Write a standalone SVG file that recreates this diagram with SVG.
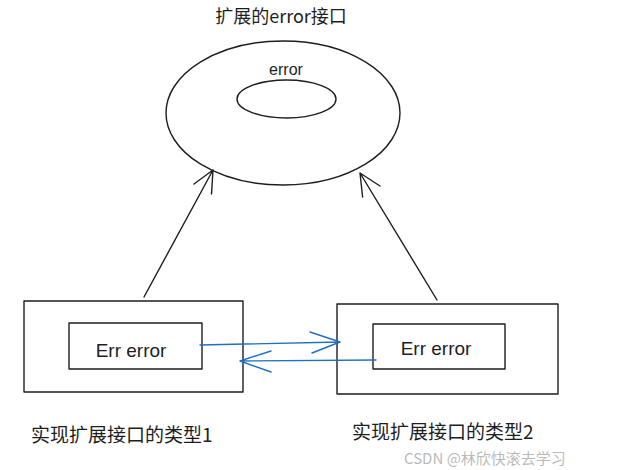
<svg xmlns="http://www.w3.org/2000/svg" width="619" height="470" viewBox="0 0 619 470">
<style>
.s{fill:none;stroke:#1e1e1e;stroke-width:1.4;stroke-linecap:round;stroke-linejoin:round}
.b{fill:none;stroke:#1f6fc6;stroke-width:1.4;stroke-linecap:round;stroke-linejoin:round}
.cjk{font-family:"Noto Sans CJK SC","Liberation Sans",sans-serif;fill:#1e1e1e}
.hw{font-family:"Liberation Sans","DejaVu Sans",sans-serif;fill:#1e1e1e}
</style>
<rect width="619" height="470" fill="#ffffff"/>
<g id="title"><text class="cjk" x="281" y="23" font-size="18" text-anchor="middle">扩展的error接口</text></g>
<g id="error-interface">
<ellipse class="s" cx="283" cy="113" rx="117" ry="72"/>
<ellipse class="s" cx="286.5" cy="99" rx="49.5" ry="19"/>
<text class="hw" x="286" y="75" font-size="16" text-anchor="middle">error</text>
</g>
<g id="type1">
<rect class="s" x="24" y="301" width="219" height="91"/>
<rect class="s" x="69" y="323" width="133" height="46"/>
<text class="hw" x="131" y="357" font-size="19" text-anchor="middle">Err error</text>
</g>
<g id="type2">
<rect class="s" x="337" y="304" width="221" height="90"/>
<rect class="s" x="373" y="324" width="132" height="45"/>
<text class="hw" x="436" y="355" font-size="19" text-anchor="middle">Err error</text>
</g>
<g id="connectors">
<path class="s" d="M144 297 L213 170 M194 184 L213 170 L211.5 194"/>
<path class="s" d="M437 300 L360 173 M362.6 197 L360 173 L380 186"/>
<path class="b" d="M200 345 L340 342 M310 332 L340 342 L312 353"/>
<path class="b" d="M376 360 L240 361 M271 351 L240 361 L271 372"/>
</g>
<g id="labels">
<text class="cjk" x="31" y="442" font-size="19">实现扩展接口的类型1</text>
<text class="cjk" x="352" y="439" font-size="19">实现扩展接口的类型2</text>
<text class="cjk" x="404" y="464" font-size="15" style="fill:#9a9a9a;fill-opacity:0.7">CSDN @林欣快滚去学习</text>
</g>
</svg>
